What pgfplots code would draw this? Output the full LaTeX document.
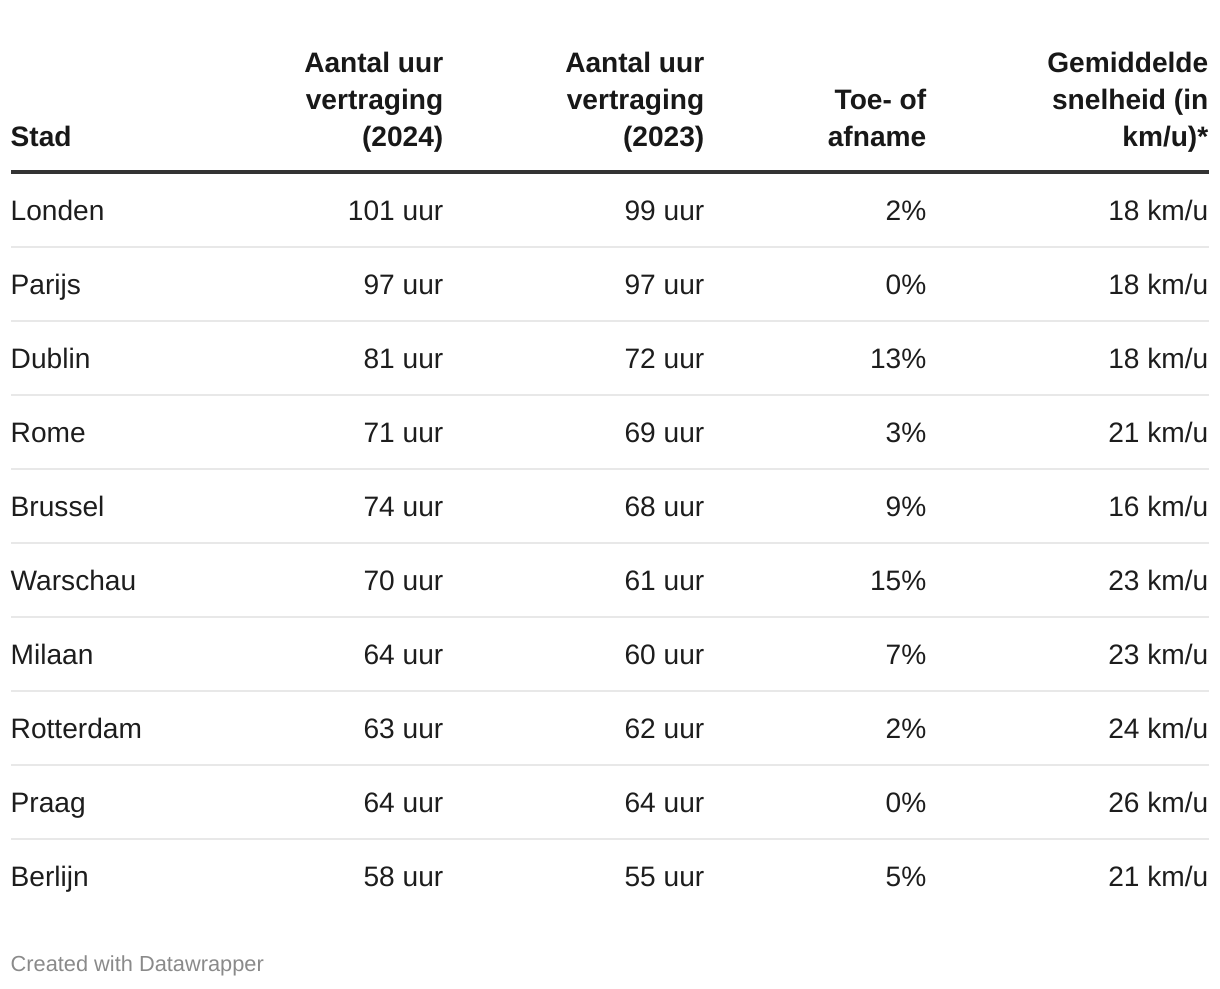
\documentclass[border=0pt]{standalone}
\usepackage{pgfplots}
\usepackage{pgfplotstable}
\usepackage{fontspec}
\setmainfont{Liberation Sans}
\pgfplotsset{compat=1.18}
\definecolor{txt}{HTML}{1D1D1D}
\definecolor{hdr}{HTML}{181818}
\definecolor{rule}{HTML}{333333}
\definecolor{sep}{HTML}{E8E8E8}
\definecolor{foot}{HTML}{8A8A8A}

% header cells (bold); right-aligned ones have x = right edge
\pgfplotstableread[col sep=comma]{
x,y,label
444,72.7,Aantal uur
444,109.3,vertraging
444,146,(2024)
705,72.7,Aantal uur
705,109.3,vertraging
705,146,(2023)
927,109.3,Toe- of
927,146,afname
1209,72.7,Gemiddelde
1209,109.3,snelheid (in
1209,146,km/u)*
}\hdrright

\pgfplotstableread[col sep=comma]{
x,y,label
10,146,Stad
}\hdrleft

% city names
\pgfplotstableread[col sep=comma]{
x,y,label
10,220.7,Londen
10,294.7,Parijs
10,368.7,Dublin
10,442.7,Rome
10,516.7,Brussel
10,590.7,Warschau
10,664.7,Milaan
10,738.7,Rotterdam
10,812.7,Praag
10,886.7,Berlijn
}\cities

% values (right aligned)
\pgfplotstableread[col sep=comma]{
x,y,label
444,220.7,101 uur
444,294.7,97 uur
444,368.7,81 uur
444,442.7,71 uur
444,516.7,74 uur
444,590.7,70 uur
444,664.7,64 uur
444,738.7,63 uur
444,812.7,64 uur
444,886.7,58 uur
705,220.7,99 uur
705,294.7,97 uur
705,368.7,72 uur
705,442.7,69 uur
705,516.7,68 uur
705,590.7,61 uur
705,664.7,60 uur
705,738.7,62 uur
705,812.7,64 uur
705,886.7,55 uur
927,220.7,2\%
927,294.7,0\%
927,368.7,13\%
927,442.7,3\%
927,516.7,9\%
927,590.7,15\%
927,664.7,7\%
927,738.7,2\%
927,812.7,0\%
927,886.7,5\%
1209,220.7,18 km/u
1209,294.7,18 km/u
1209,368.7,18 km/u
1209,442.7,21 km/u
1209,516.7,16 km/u
1209,590.7,23 km/u
1209,664.7,23 km/u
1209,738.7,24 km/u
1209,812.7,26 km/u
1209,886.7,21 km/u
}\values

\begin{document}
\begin{tikzpicture}
\begin{axis}[
  scale only axis, width=12.2cm, height=9.88cm,
  xmin=0, xmax=1220, ymin=0, ymax=988, y dir=reverse,
  hide axis, clip=false,
]
% frame to fix the bounding box
\addplot[draw=none, mark=none] coordinates {(0,0) (1220,988)};
% header rule
\addplot[rule, line width=1.14pt, mark=none] coordinates {(11,171.7) (1209,171.7)};
% row separators
\foreach \yy in {246.7,320.7,394.7,468.7,542.7,616.7,690.7,764.7,838.7}{
  \edef\tmp{\noexpand\addplot[sep, line width=0.5pt, mark=none] coordinates {(11,\yy) (1209,\yy)};}
  \tmp
}
% header text
\addplot[draw=none, mark=none, nodes near coords, point meta=explicit symbolic,
  nodes near coords style={anchor=base east, inner sep=0pt, font=\fontsize{8}{9.6}\selectfont\bfseries, text=hdr}]
  table[x=x, y=y, meta=label]{\hdrright};
\addplot[draw=none, mark=none, nodes near coords, point meta=explicit symbolic,
  nodes near coords style={anchor=base west, inner sep=0pt, font=\fontsize{8}{9.6}\selectfont\bfseries, text=hdr}]
  table[x=x, y=y, meta=label]{\hdrleft};
% body
\addplot[draw=none, mark=none, nodes near coords, point meta=explicit symbolic,
  nodes near coords style={anchor=base west, inner sep=0pt, font=\fontsize{8}{9.6}\selectfont, text=txt}]
  table[x=x, y=y, meta=label]{\cities};
\addplot[draw=none, mark=none, nodes near coords, point meta=explicit symbolic,
  nodes near coords style={anchor=base east, inner sep=0pt, font=\fontsize{8}{9.6}\selectfont, text=txt}]
  table[x=x, y=y, meta=label]{\values};
% footer
\addplot[draw=none, mark=none, nodes near coords, point meta=explicit symbolic,
  nodes near coords style={anchor=base west, inner sep=0pt, font=\fontsize{6.2}{7.4}\selectfont, text=foot}]
  coordinates {(10,971) [Created with Datawrapper]};
\end{axis}
\end{tikzpicture}
\end{document}
